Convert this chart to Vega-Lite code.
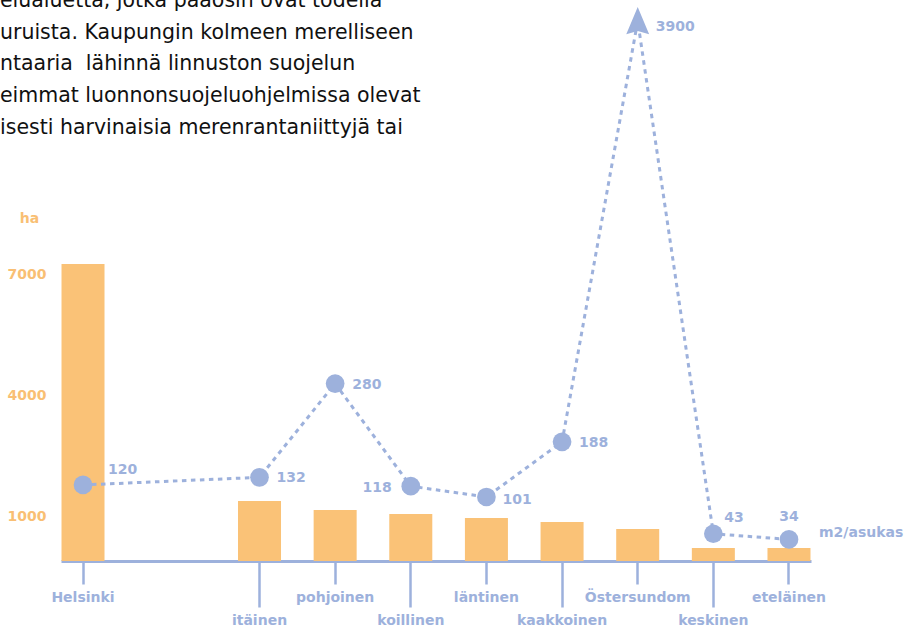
{
  "$schema": "https://vega.github.io/schema/vega-lite/v6.json",
  "autosize": {"type": "none"},
  "width": 750,
  "height": 540,
  "padding": {"left": 61, "top": 21, "right": 93, "bottom": 66},
  "background": "white",
  "config": {"view": {"stroke": null}},
  "title": {
    "text": ["elualuetta, jotka pääosin ovat todella", "uruista. Kaupungin kolmeen merelliseen", "ntaaria\u00a0 lähinnä linnuston suojelun", "eimmat luonnonsuojeluohjelmissa olevat", "isesti harvinaisia merenrantaniittyjä tai"],
    "anchor": "start",
    "frame": "group",
    "orient": "top",
    "offset": 0,
    "baseline": "alphabetic",
    "dx": -61,
    "dy": 147,
    "font": "DejaVu Sans",
    "fontSize": 20.5,
    "fontWeight": "normal",
    "color": "#111111",
    "lineHeight": 31.6
  },
  "data": {
    "values": [
      {"alue": "Helsinki", "ha": 7370, "m2": 120},
      {"alue": "itäinen", "ha": 1490, "m2": 132},
      {"alue": "pohjoinen", "ha": 1265, "m2": 280},
      {"alue": "koillinen", "ha": 1165, "m2": 118},
      {"alue": "läntinen", "ha": 1067, "m2": 101},
      {"alue": "kaakkoinen", "ha": 968, "m2": 188},
      {"alue": "Östersundom", "ha": 794, "m2": 3900},
      {"alue": "keskinen", "ha": 323, "m2": 43},
      {"alue": "eteläinen", "ha": 323, "m2": 34}
    ]
  },
  "encoding": {
    "x": {
      "field": "alue",
      "type": "nominal",
      "sort": null,
      "scale": {
        "domain": ["Helsinki", "_1", "_2", "_3", "_4", "_5", "_6", "itäinen", "_7", "_8", "pohjoinen", "_9", "_10", "koillinen", "_11", "_12", "läntinen", "_13", "_14", "kaakkoinen", "_15", "_16", "Östersundom", "_17", "_18", "keskinen", "_19", "_20", "eteläinen"],
        "paddingInner": 0,
        "paddingOuter": 0.373
      },
      "axis": {
        "title": null,
        "domainColor": "#9db1dc",
        "domainWidth": 3,
        "tickColor": "#9db1dc",
        "tickWidth": 2.5,
        "tickSize": {"condition": {"test": "indexof(['itäinen','koillinen','kaakkoinen','keskinen'], datum.value) >= 0", "value": 46}, "value": 23},
        "tickOpacity": {"condition": {"test": "indexof(datum.value, '_') === 0", "value": 0}, "value": 1},
        "labelExpr": "indexof(datum.value, '_') === 0 ? '' : datum.value",
        "labelAngle": 0,
        "labelBaseline": "top",
        "labelPadding": 6,
        "labelOverlap": false,
        "labelColor": "#9db1dc",
        "labelFont": "DejaVu Sans",
        "labelFontSize": 14,
        "labelFontWeight": "bold"
      }
    }
  },
  "layer": [
    {
      "mark": {"type": "bar", "color": "#fac277", "width": {"band": 1.706}},
      "encoding": {
        "y": {
          "field": "ha",
          "type": "quantitative",
          "scale": {"domain": [0, 13400], "nice": false},
          "axis": {
            "values": [1000, 4000, 7000],
            "format": "d",
            "domain": false,
            "ticks": false,
            "grid": false,
            "labelBaseline": "alphabetic",
            "labelPadding": 15,
            "labelColor": "#f9bf74",
            "labelFont": "DejaVu Sans",
            "labelFontSize": 14,
            "labelFontWeight": "bold",
            "title": "ha",
            "titleAngle": 0,
            "titleX": -32,
            "titleY": 201,
            "titleAlign": "center",
            "titleBaseline": "alphabetic",
            "titleColor": "#f9bf74",
            "titleFont": "DejaVu Sans",
            "titleFontSize": 14,
            "titleFontWeight": "bold"
          }
        }
      }
    },
    {
      "encoding": {
        "y": {
          "field": "m2",
          "type": "quantitative",
          "scale": {"domain": [0, 852], "nice": false, "clamp": true},
          "axis": null
        }
      },
      "layer": [
        {"mark": {"type": "line", "color": "#9db1dc", "strokeWidth": 3, "strokeDash": [4.5, 4.5]}},
        {
          "transform": [{"filter": "datum.m2 < 1000"}],
          "mark": {"type": "circle", "size": 350, "opacity": 1, "color": "#9db1dc"}
        },
        {
          "transform": [{"filter": "datum.m2 >= 1000"}],
          "mark": {"type": "point", "shape": "M0,-1L0.82,0.95L0,0.72L-0.82,0.95Z", "size": 780, "filled": true, "opacity": 1, "color": "#9db1dc"}
        },
        {
          "transform": [{"filter": {"field": "alue", "oneOf": ["itäinen", "pohjoinen", "kaakkoinen"]}}],
          "mark": {"type": "text", "align": "left", "baseline": "middle", "dx": 17, "dy": 1, "font": "DejaVu Sans", "fontSize": 14, "fontWeight": "bold", "color": "#9db1dc"},
          "encoding": {"text": {"field": "m2", "type": "nominal"}}
        },
        {
          "transform": [{"filter": {"field": "alue", "oneOf": ["läntinen"]}}],
          "mark": {"type": "text", "align": "left", "baseline": "middle", "dx": 16, "dy": 3, "font": "DejaVu Sans", "fontSize": 14, "fontWeight": "bold", "color": "#9db1dc"},
          "encoding": {"text": {"field": "m2", "type": "nominal"}}
        },
        {
          "transform": [{"filter": {"field": "alue", "oneOf": ["Helsinki"]}}],
          "mark": {"type": "text", "align": "left", "baseline": "middle", "dx": 25, "dy": -15, "font": "DejaVu Sans", "fontSize": 14, "fontWeight": "bold", "color": "#9db1dc"},
          "encoding": {"text": {"field": "m2", "type": "nominal"}}
        },
        {
          "transform": [{"filter": {"field": "alue", "oneOf": ["koillinen"]}}],
          "mark": {"type": "text", "align": "right", "baseline": "middle", "dx": -19, "dy": 2, "font": "DejaVu Sans", "fontSize": 14, "fontWeight": "bold", "color": "#9db1dc"},
          "encoding": {"text": {"field": "m2", "type": "nominal"}}
        },
        {
          "transform": [{"filter": {"field": "alue", "oneOf": ["Östersundom"]}}],
          "mark": {"type": "text", "align": "left", "baseline": "middle", "dx": 18, "dy": 6, "font": "DejaVu Sans", "fontSize": 14, "fontWeight": "bold", "color": "#9db1dc"},
          "encoding": {"text": {"field": "m2", "type": "nominal"}}
        },
        {
          "transform": [{"filter": {"field": "alue", "oneOf": ["keskinen"]}}],
          "mark": {"type": "text", "align": "left", "baseline": "middle", "dx": 11, "dy": -16, "font": "DejaVu Sans", "fontSize": 14, "fontWeight": "bold", "color": "#9db1dc"},
          "encoding": {"text": {"field": "m2", "type": "nominal"}}
        },
        {
          "transform": [{"filter": {"field": "alue", "oneOf": ["eteläinen"]}}],
          "mark": {"type": "text", "align": "center", "baseline": "middle", "dx": 0, "dy": -22, "font": "DejaVu Sans", "fontSize": 14, "fontWeight": "bold", "color": "#9db1dc"},
          "encoding": {"text": {"field": "m2", "type": "nominal"}}
        },
        {
          "transform": [{"filter": {"field": "alue", "oneOf": ["eteläinen"]}}],
          "mark": {"type": "text", "align": "left", "baseline": "middle", "dx": 30, "dy": -6, "font": "DejaVu Sans", "fontSize": 14, "fontWeight": "bold", "color": "#9db1dc"},
          "encoding": {"text": {"value": "m2/asukas"}}
        }
      ]
    }
  ],
  "resolve": {"scale": {"y": "independent"}}
}
